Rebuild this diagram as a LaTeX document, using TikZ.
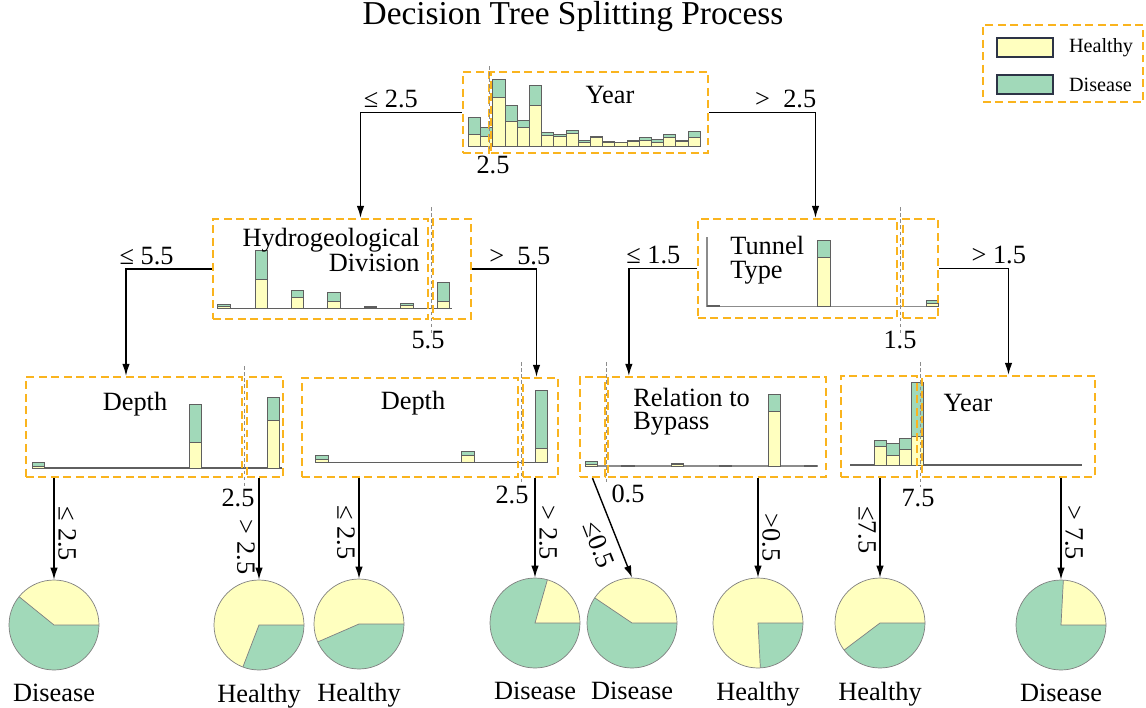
\documentclass[tikz,border=0pt]{standalone}
\usepackage{fontspec}
\setmainfont{Liberation Serif}
\usetikzlibrary{arrows.meta,positioning,fit,calc}
\definecolor{healthyyellow}{RGB}{255,255,191}
\definecolor{diseasegreen}{RGB}{161,217,185}
\definecolor{boxorange}{RGB}{250,180,30}
\definecolor{barline}{RGB}{95,95,95}
\definecolor{cutgray}{RGB}{140,140,140}
\definecolor{swatchline}{RGB}{45,52,70}

% one stacked bar: left x, baseline y, healthy height, total height
\newcommand{\stackbar}[4]{%
  \filldraw[barpart, fill=healthyyellow] (#1,#2) rectangle ++(12.3,-#3);
  \filldraw[barpart, fill=diseasegreen] (#1,#2-#3) rectangle ++(12.3,#3-#4);
}
% pie on a named node: node, angle where the healthy part ends
\newcommand{\piechart}[2]{%
  \begin{scope}[shift={(#1.center)}]
    \fill[healthyyellow] (0,0) -- (0:0.9cm) arc[start angle=0, end angle=#2, radius=0.9cm] -- cycle;
    \fill[diseasegreen] (0,0) -- (#2:0.9cm) arc[start angle=#2, end angle=360, radius=0.9cm] -- cycle;
    \draw[pieline] (#2:0.9cm) -- (0,0) -- (0:0.9cm);
    \draw[pieline] (0,0) circle[radius=0.9cm];
  \end{scope}
}

\begin{document}
\begin{tikzpicture}[
    x=0.02cm, y=-0.02cm,
    every node/.style={font=\fontsize{15}{18}\selectfont},
    splitbox/.style={draw=boxorange, line width=1.3pt, dash pattern=on 4.5pt off 2.6pt, inner sep=0pt},
    swatch/.style={draw=swatchline, line width=0.8pt, inner sep=0pt},
    barpart/.style={draw=barline, line width=0.4pt},
    axisline/.style={draw=barline, line width=0.6pt},
    cutline/.style={draw=cutgray, line width=0.5pt, dash pattern=on 2pt off 1.5pt},
    pieline/.style={draw=gray, line width=0.4pt},
    pienode/.style={circle, minimum size=1.8cm, inner sep=0pt},
    arrow/.style={line width=0.8pt, -{Latex[length=0.24cm, width=0.15cm]}},
    edgelabel/.style={inner sep=2pt},
    ruleright/.style={rotate=-90, anchor=south, inner sep=2pt},
    ruleleft/.style={rotate=-90, anchor=north, inner sep=2pt}
]
\useasboundingbox (0,0) rectangle (1146,707);

\node[font=\fontsize{19}{23}\selectfont] (title) at (573,17) {Decision Tree Splitting Process};

% Legend
\node[splitbox, fit={(983,25) (1143,102)}] (legend) {};
\node[swatch, fill=healthyyellow, fit={(997,38) (1053,57)}] (keyH) {};
\node[swatch, fill=diseasegreen, fit={(997,75) (1053,94)}] (keyD) {};
\node[font=\fontsize{11.5}{14}\selectfont, inner sep=0pt, right=0.3cm of keyH] (keyHtext) {Healthy};
\node[font=\fontsize{11.5}{14}\selectfont, inner sep=0pt, right=0.3cm of keyD] (keyDtext) {Disease};

% Histograms
\foreach \t/\h [count=\i from 0] in {29.3/12.3, 19/10.7, 67.7/49.3, 41.7/25, 26.7/19.7, 61/41.7,
    14.7/11.7, 12.7/10, 16.3/13, 6.3/4.7, 10/9, 5/4.3, 4.7/4, 6/5, 9.7/6.3, 7.7/4.7, 12/9.3, 6.3/5.3, 15.3/9}
  {\stackbar{468.3+12.2*\i}{146.7}{\h}{\t}}

\draw[axisline] (217.7,308.3) -- (452,308.3);
\foreach \x/\h/\t in {217.7/2.3/4, 255/29/57.6, 291/11/18.3, 327.7/6.6/16.3, 364.3/1/2.3, 400.7/3.3/5.3, 437.3/6.6/26.3}
  {\stackbar{\x}{308.3}{\h}{\t}}

\draw[axisline, draw=cutgray] (707,237) -- (707,306.7) -- (939,306.7);
\foreach \x/\h/\t in {707.5/1/1.5, 817.7/49.4/66, 926/3.4/6.7}
  {\stackbar{\x}{306.7}{\h}{\t}}

\draw[axisline] (32,468) -- (282,468);
\foreach \x/\h/\t in {32/1.3/5.7, 189.3/25.3/64, 267.3/48/70.7}
  {\stackbar{\x}{468}{\h}{\t}}

\draw[axisline] (315,462.7) -- (547,462.7);
\foreach \x/\h/\t in {315.7/3.4/7, 461.7/7.7/11.7, 535/14.4/72.7}
  {\stackbar{\x}{462.7}{\h}{\t}}

\draw[axisline, draw=cutgray] (585,466) -- (818,466);
\foreach \x/\h/\t in {585/1.7/4.3, 621.7/0.5/1, 671/1.3/2.7, 719.3/0.5/1, 768.3/55/72, 804.3/0.5/1}
  {\stackbar{\x}{466}{\h}{\t}}

\draw[axisline] (850,465) -- (1082,465);
\foreach \x/\h/\t in {874.3/19/24.3, 886.7/10/21.7, 899/16/26.7, 911.3/28.3/82.3}
  {\stackbar{\x}{465}{\h}{\t}}

% Split boxes
\node[splitbox, fit={(463,72) (489,153)}] (rootL) {};
\node[splitbox, fit={(491,72) (708,153)}] (root) {};
\node[splitbox, fit={(213,219) (428,319)}] (hydro) {};
\node[splitbox, fit={(433,219) (471,319)}] (hydroR) {};
\node[splitbox, fit={(698,219) (897,318)}] (tunnel) {};
\node[splitbox, fit={(903,219) (938,318)}] (tunnelR) {};
\node[splitbox, fit={(26,377) (242,477)}] (depthA) {};
\node[splitbox, fit={(247,377) (283,477)}] (depthAR) {};
\node[splitbox, fit={(302,378) (518,477)}] (depthB) {};
\node[splitbox, fit={(523,378) (558,477)}] (depthBR) {};
\node[splitbox, fit={(580,377) (605,477)}] (relL) {};
\node[splitbox, fit={(608,377) (826,477)}] (rel) {};
\node[splitbox, fit={(841,376) (917,477)}] (yearL) {};
\node[splitbox, fit={(922,376) (1095,477)}] (year2) {};

% Feature names
\node (rootT) at (610,95) {Year};
\node[align=right, anchor=east, inner sep=0pt] (hydroT) at (420,250) {Hydrogeological\\[-4pt]Division};
\node[align=left, anchor=west, inner sep=0pt] (tunnelT) at (730,260) {Tunnel\\[-4pt]Type};
\node (depthAT) at (135,404) {Depth};
\node (depthBT) at (413,403) {Depth};
\node[align=left, anchor=west, inner sep=0pt] (relT) at (633,412) {Relation to\\[-5pt]Bypass};
\node (year2T) at (968,403) {Year};

% Thresholds
\draw[cutline] (489,66) -- (489,150);
\node (rootCut) at (493,165) {2.5};
\draw[cutline] (431,207) -- (431,333);
\node (hydroCut) at (428,340) {5.5};
\draw[cutline] (900,207) -- (900,333);
\node (tunnelCut) at (900,340) {1.5};
\draw[cutline] (244,366) -- (244,486);
\node (depthACut) at (238,498) {2.5};
\draw[cutline] (521.7,362) -- (521.7,484);
\node (depthBCut) at (512,495) {2.5};
\draw[cutline] (606.7,362) -- (606.7,484);
\node (relCut) at (628,494) {0.5};
\draw[cutline] (920,362) -- (920,487);
\node (year2Cut) at (918,498) {7.5};

% Leaves
\node[pienode] (pieA) at (54,625) {};
\node[pienode] (pieB) at (259,625) {};
\node[pienode] (pieC) at (359,624) {};
\node[pienode] (pieD) at (535,623) {};
\node[pienode] (pieE) at (632,623) {};
\node[pienode] (pieF) at (758,623) {};
\node[pienode] (pieG) at (880,623) {};
\node[pienode] (pieH) at (1061,625) {};
\piechart{pieA}{141}
\piechart{pieB}{249}
\piechart{pieC}{203.5}
\piechart{pieD}{74}
\piechart{pieE}{146}
\piechart{pieF}{273}
\piechart{pieG}{217}
\piechart{pieH}{87}
\node[below=0.15cm of pieA] (leafA) {Disease};
\node[below=0.15cm of pieB] (leafB) {Healthy};
\node[below=0.15cm of pieC] (leafC) {Healthy};
\node[below=0.15cm of pieD] (leafD) {Disease};
\node[below=0.15cm of pieE] (leafE) {Disease};
\node[below=0.15cm of pieF] (leafF) {Healthy};
\node[below=0.15cm of pieG] (leafG) {Healthy};
\node[below=0.15cm of pieH] (leafH) {Disease};

% Connections
\draw[arrow] (rootL.west) -| ($(hydro.north)+(40,0)$) node[edgelabel, pos=.35, above] {≤ 2.5};
\draw[arrow] (root.east) -| ($(tunnel.north)+(18,0)$) node[edgelabel, pos=.36, above] {>\ \ 2.5};
\draw[arrow] (hydro.west) -| ($(depthA.north)+(-8,0)$) node[edgelabel, pos=.38, above] {≤ 5.5};
\draw[arrow] (hydroR.east) -| ($(depthBR.north)+(-4,0)$) node[edgelabel, pos=.37, above] {>\ \ 5.5};
\draw[arrow] (tunnel.west) -| ($(rel.north west)+(22,0)$) node[edgelabel, pos=.32, above] {≤ 1.5};
\draw[arrow] (tunnelR.east) -| (year2.north) node[edgelabel, pos=.43, above] {> 1.5};

\draw[arrow] (pieA.north |- depthA.south) -- (pieA.north) node[ruleright, pos=.55] {≤ 2.5};
\draw[arrow] (pieB.north |- depthAR.south) -- (pieB.north) node[ruleleft, pos=.68] {> 2.5};
\draw[arrow] (pieC.north |- depthB.south) -- (pieC.north) node[ruleleft, pos=.54] {≤ 2.5};
\draw[arrow] (pieD.north |- depthBR.south) -- (pieD.north) node[ruleright, pos=.55] {> 2.5};
\draw[arrow] (relL.south) -- (pieE.north) node[sloped, below, inner sep=5pt, pos=.6] {≤0.5};
\draw[arrow] (pieF.north |- rel.south) -- (pieF.north) node[ruleright, pos=.6] {>0.5};
\draw[arrow] (pieG.north |- yearL.south) -- (pieG.north) node[ruleleft, pos=.52] {≤7.5};
\draw[arrow] (pieH.north |- year2.south) -- (pieH.north) node[ruleright, pos=.54] {> 7.5};

\end{tikzpicture}
\end{document}
